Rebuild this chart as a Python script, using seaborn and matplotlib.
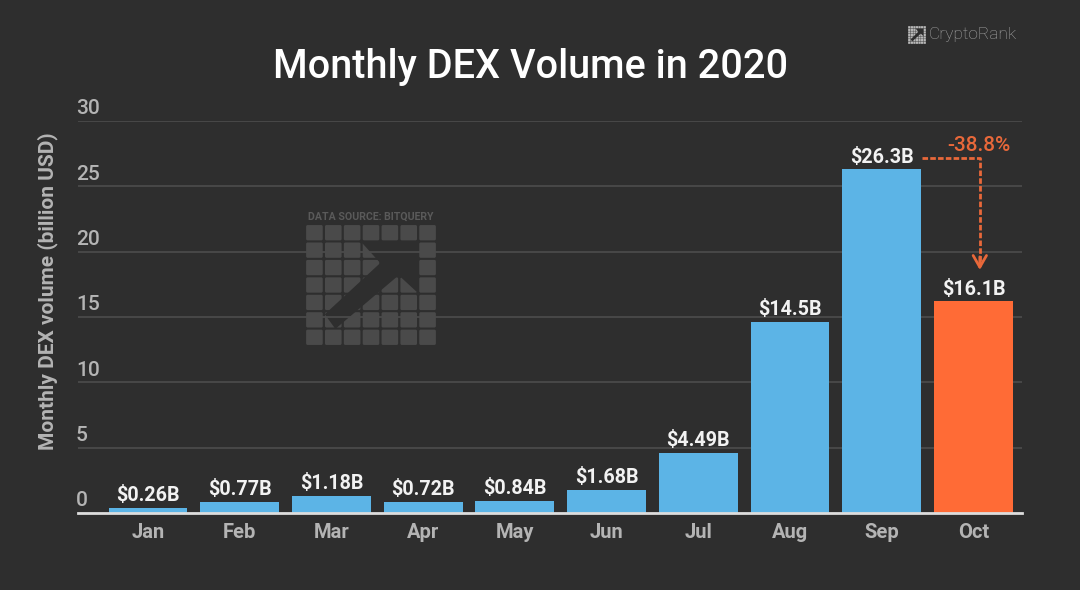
import pandas as pd
import matplotlib
matplotlib.use("Agg")
import matplotlib.pyplot as plt
from matplotlib.patches import FancyBboxPatch, Polygon
from matplotlib.transforms import ScaledTranslation
import seaborn as sns

# Data
months = ["Jan", "Feb", "Mar", "Apr", "May", "Jun", "Jul", "Aug", "Sep", "Oct"]
volumes = [0.38, 0.88, 1.29, 0.83, 0.95, 1.79, 4.6, 14.6, 26.3, 16.2]
bar_labels = ["$0.26B", "$0.77B", "$1.18B", "$0.72B", "$0.84B", "$1.68B", "$4.49B", "$14.5B", "$26.3B", "$16.1B"]
y_ticks = [0, 5, 10, 15, 20, 25, 30]
change_label = "-38.8%"

BG = "#2e2e2e"
BLUE = "#5cb4e6"
ORANGE = "#ff6b36"
ARROW = "#e8683a"
GREY = "#b4b4b4"
GRID = "#4a4a4a"
WHITE = "#f2f2f2"
MARK = "#4a4a4a"

sns.set_theme(style="dark", rc={"axes.facecolor": "none", "figure.facecolor": BG})
plt.rcParams["font.family"] = ["Roboto", "DejaVu Sans"]

df = pd.DataFrame({"month": months, "volume": volumes})
colors = {m: (ORANGE if m == "Oct" else BLUE) for m in months}

fig = plt.figure(figsize=(10.8, 5.9), dpi=100)

# Background layer in pixel coordinates for the watermark and logo
bg = fig.add_axes([0, 0, 1, 1], zorder=0)
bg.set_xlim(0, 1080)
bg.set_ylim(590, 0)
bg.axis("off")


def draw_mark(ax, x0, y0, w, h, color, under):
    sx, sy = w / 7, h / 7
    for r in range(7):
        for c in range(7):
            ax.add_patch(FancyBboxPatch((x0 + c * sx + sx * 0.06, y0 + r * sy + sy * 0.06),
                                        sx * 0.88, sy * 0.88, boxstyle=f"round,pad=0,rounding_size={sx * 0.08}",
                                        fc=color, ec="none"))
    shape = [(0.42, 0.14), (0.86, 0.14), (0.86, 0.57), (0.71, 0.42), (0.23, 0.86), (0.15, 0.74), (0.57, 0.32)]
    ax.add_patch(Polygon([(x0 + a * w, y0 + b * h) for a, b in shape], fc=under, ec="none", zorder=3))


draw_mark(bg, 305, 224, 132, 122, MARK, BG)
bg.text(371, 216.5, "DATA SOURCE: BITQUERY", color="#5a5a5a", fontsize=7.6, fontweight="bold", ha="center", va="center")
draw_mark(bg, 908, 26, 18, 18, "#b8b8b8", BG)
bg.text(929, 34.5, "CryptoRank", color="#a8a8a8", fontsize=12.5, fontweight="light", ha="left", va="center")

ax = fig.add_axes([78 / 1080, 77 / 590, 944 / 1080, 392 / 590], zorder=1)
sns.barplot(data=df, x="month", y="volume", hue="month", palette=colors, width=0.86,
            saturation=1, legend=False, ax=ax, zorder=2, edgecolor="none", linewidth=0)

ax.set_xlim(-0.764, 9.53)
ax.set_ylim(0, 30)
ax.set_yticks(y_ticks)
ax.set_xlabel("")
ax.set_ylabel("Monthly DEX volume (billion USD)", color=GREY, fontsize=15, fontweight="bold", y=0.566, labelpad=13)
ax.grid(axis="y", color=GRID, lw=1.3, zorder=1)
ax.set_axisbelow(True)
ax.tick_params(axis="x", length=0, pad=7, labelcolor=GREY, labelsize=14.5)
ax.tick_params(axis="y", length=0, pad=0, labelcolor=GREY, labelsize=15)
for lab in ax.get_xticklabels():
    lab.set_fontweight("bold")
shift = ScaledTranslation(-1.5 / 72, 2 / 72, fig.dpi_scale_trans)
for lab in ax.get_yticklabels():
    lab.set_ha("left")
    lab.set_va("bottom")
    lab.set_fontweight("medium")
    lab.set_transform(lab.get_transform() + shift)
for name in ["top", "right", "left"]:
    ax.spines[name].set_visible(False)
ax.spines["bottom"].set_color("#dddddd")
ax.spines["bottom"].set_linewidth(2)
ax.spines["bottom"].set_zorder(5)

# Value labels
for i, (v, lab) in enumerate(zip(volumes, bar_labels)):
    ax.annotate(lab, (i, v), xytext=(0, 2), textcoords="offset points", ha="center", va="bottom",
                color=WHITE, fontsize=14.2, fontweight="bold")

# Drop from Sep to Oct
top = volumes[8] + 0.85
turn = 9.07
tip = volumes[9] + 2.4
ax.plot([8.44, turn, turn], [top, top, tip + 0.3], color=ARROW, lw=2, ls=(0, (2, 0.8)), zorder=4)
ax.annotate("", xy=(turn, tip), xytext=(turn, tip + 1),
            arrowprops=dict(arrowstyle="->,head_length=0.7,head_width=0.4", color=ARROW, lw=2,
                            shrinkA=0, shrinkB=0))
ax.text(9.41, top + 1.0, change_label, color=ARROW, fontsize=15, fontweight="medium", ha="right", va="center")

fig.text(531 / 1080, 1 - 67.5 / 590, "Monthly DEX Volume in 2020", color="#ffffff", fontsize=28.5,
         fontweight="medium", ha="center", va="center")

fig.savefig("out.png", dpi=100, facecolor=BG)
